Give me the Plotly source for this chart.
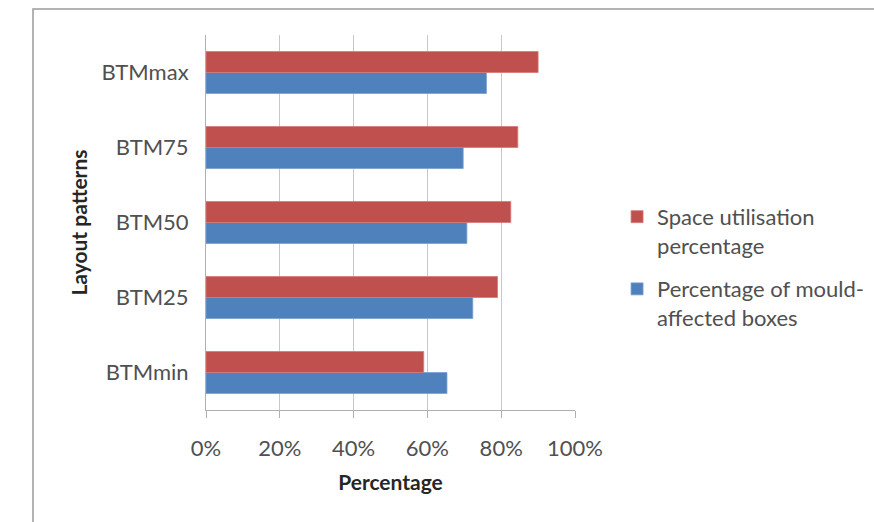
import plotly.graph_objects as go

categories = ["BTMmin", "BTM25", "BTM50", "BTM75", "BTMmax"]
space_utilisation = [0.59, 0.79, 0.826, 0.845, 0.90]
mould_affected = [0.653, 0.723, 0.707, 0.697, 0.76]
tick_vals = [0, 0.2, 0.4, 0.6, 0.8, 1.0]
tick_text = ["0%", "20%", "40%", "60%", "80%", "100%"]

FONT = "Lato"
TXT = "#505050"
fig = go.Figure()
fig.add_trace(go.Bar(
    y=categories, x=mould_affected, orientation="h",
    name="Percentage of mould-<br>affected boxes", legendgroup="b", legendrank=2,
    marker=dict(color="#4f81bd", line=dict(color="#7aa0d0", width=0.8)),
))
fig.add_trace(go.Bar(
    y=categories, x=space_utilisation, orientation="h",
    name="Space utilisation<br>percentage", legendgroup="a", legendrank=1,
    marker=dict(color="#c0504d", line=dict(color="#d57a77", width=0.8)),
))

fig.update_layout(
    width=874, height=522,
    margin=dict(l=206, r=299, t=35, b=112, autoexpand=False),
    barmode="group", bargap=0.44, bargroupgap=0,
    plot_bgcolor="white", paper_bgcolor="white",
    font=dict(family=FONT, size=22, color=TXT),
    showlegend=True,
    legend=dict(
        x=1.114, y=0.571, xanchor="left", yanchor="top",
        traceorder="grouped", tracegroupgap=12, valign="top",
        font=dict(family=FONT, size=22, color=TXT),
        itemwidth=30,
    ),
    xaxis=dict(
        range=[0, 1], tickvals=tick_vals, ticktext=tick_text,
        showgrid=True, gridcolor="#c8c8c8", gridwidth=1,
        showline=True, linecolor="#b0b0b0", linewidth=1,
        ticks="outside", ticklen=7, tickcolor="#b0b0b0",
        ticklabelstandoff=12,
        zeroline=False,
        title=dict(text="<b>Percentage</b>", font=dict(family=FONT, size=21, color="#262626"), standoff=14),
        tickfont=dict(family=FONT, size=22, color=TXT),
    ),
    yaxis=dict(
        categoryorder="array", categoryarray=categories,
        showline=True, linecolor="#b0b0b0", linewidth=1,
        ticks="", showgrid=False,
        ticklabelstandoff=12,
        title=dict(text="<b>Layout patterns</b>", font=dict(family=FONT, size=21, color="#262626"), standoff=8),
        tickfont=dict(family=FONT, size=22, color=TXT),
    ),
    shapes=[dict(
        type="rect", xref="paper", yref="paper",
        x0=(33 - 206) / 369, x1=2.0, y0=-1.0, y1=1 + (35 - 9) / 375,
        line=dict(color="#9a9a9a", width=1.5), fillcolor="rgba(0,0,0,0)", layer="below",
    )],
)

fig.write_html("out.html")
